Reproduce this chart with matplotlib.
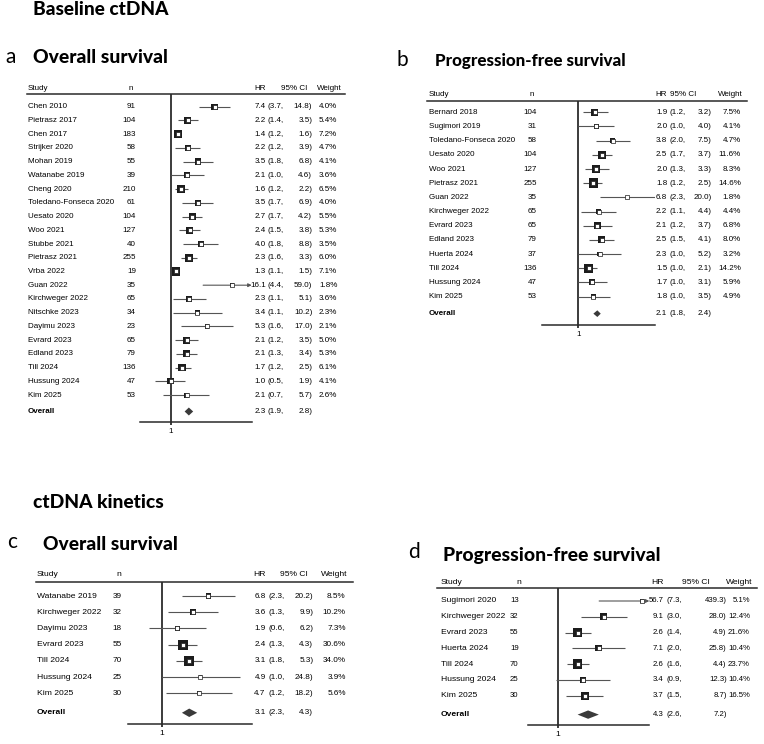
import numpy as np
import matplotlib
matplotlib.use("Agg")
import matplotlib.pyplot as plt
from matplotlib import transforms
from matplotlib.lines import Line2D

# ---------------- data ----------------
studies_a = ["Chen 2010", "Pietrasz 2017", "Chen 2017", "Strijker 2020", "Mohan 2019",
             "Watanabe 2019", "Cheng 2020", "Toledano-Fonseca 2020", "Uesato 2020", "Woo 2021",
             "Stubbe 2021", "Pietrasz 2021", "Vrba 2022", "Guan 2022", "Kirchweger 2022",
             "Nitschke 2023", "Dayimu 2023", "Evrard 2023", "Edland 2023", "Till 2024",
             "Hussung 2024", "Kim 2025"]
n_a = [91, 104, 183, 58, 55, 39, 210, 61, 104, 127, 40, 255, 19, 35, 65, 34, 23, 65, 79, 136, 47, 53]
hr_a = [7.4, 2.2, 1.4, 2.2, 3.5, 2.1, 1.6, 3.5, 2.7, 2.4, 4.0, 2.3, 1.3, 16.1, 2.3, 3.4, 5.3, 2.1, 2.1, 1.7, 1.0, 2.1]
lo_a = [3.7, 1.4, 1.2, 1.2, 1.8, 1.0, 1.2, 1.7, 1.7, 1.5, 1.8, 1.6, 1.1, 4.4, 1.1, 1.1, 1.6, 1.2, 1.3, 1.2, 0.5, 0.7]
hi_a = [14.8, 3.5, 1.6, 3.9, 6.8, 4.6, 2.2, 6.9, 4.2, 3.8, 8.8, 3.3, 1.5, 59.0, 5.1, 10.2, 17.0, 3.5, 3.4, 2.5, 1.9, 5.7]
w_a = [4.0, 5.4, 7.2, 4.7, 4.1, 3.6, 6.5, 4.0, 5.5, 5.3, 3.5, 6.0, 7.1, 1.8, 3.6, 2.3, 2.1, 5.0, 5.3, 6.1, 4.1, 2.6]
overall_a = [2.3, 1.9, 2.8]

studies_b = ["Bernard 2018", "Sugimori 2019", "Toledano-Fonseca 2020", "Uesato 2020", "Woo 2021",
             "Pietrasz 2021", "Guan 2022", "Kirchweger 2022", "Evrard 2023", "Edland 2023",
             "Huerta 2024", "Till 2024", "Hussung 2024", "Kim 2025"]
n_b = [104, 31, 58, 104, 127, 255, 35, 65, 65, 79, 37, 136, 47, 53]
hr_b = [1.9, 2.0, 3.8, 2.5, 2.0, 1.8, 6.8, 2.2, 2.1, 2.5, 2.3, 1.5, 1.7, 1.8]
lo_b = [1.2, 1.0, 2.0, 1.7, 1.3, 1.2, 2.3, 1.1, 1.2, 1.5, 1.0, 1.0, 1.0, 1.0]
hi_b = [3.2, 4.0, 7.5, 3.7, 3.3, 2.5, 20.0, 4.4, 3.7, 4.1, 5.2, 2.1, 3.1, 3.5]
w_b = [7.5, 4.1, 4.7, 11.6, 8.3, 14.6, 1.8, 4.4, 6.8, 8.0, 3.2, 14.2, 5.9, 4.9]
overall_b = [2.1, 1.8, 2.4]

studies_c = ["Watanabe 2019", "Kirchweger 2022", "Dayimu 2023", "Evrard 2023", "Till 2024",
             "Hussung 2024", "Kim 2025"]
n_c = [39, 32, 18, 55, 70, 25, 30]
hr_c = [6.8, 3.6, 1.9, 2.4, 3.1, 4.9, 4.7]
lo_c = [2.3, 1.3, 0.6, 1.3, 1.8, 1.0, 1.2]
hi_c = [20.2, 9.9, 6.2, 4.3, 5.3, 24.8, 18.2]
w_c = [8.5, 10.2, 7.3, 30.6, 34.0, 3.9, 5.6]
overall_c = [3.1, 2.3, 4.3]

studies_d = ["Sugimori 2020", "Kirchweger 2022", "Evrard 2023", "Huerta 2024", "Till 2024",
             "Hussung 2024", "Kim 2025"]
n_d = [13, 32, 55, 19, 70, 25, 30]
hr_d = [56.7, 9.1, 2.6, 7.1, 2.6, 3.4, 3.7]
lo_d = [7.3, 3.0, 1.4, 2.0, 1.6, 0.9, 1.5]
hi_d = [439.3, 28.0, 4.9, 25.8, 4.4, 12.3, 8.7]
w_d = [5.1, 12.4, 21.6, 10.4, 23.7, 10.4, 16.5]
overall_d = [4.3, 2.6, 7.2]

header_labels = ["Study", "n", "HR", "95% CI", "Weight"]
tick_label = "1"

# ---------------- figure ----------------
W, H = 764, 744
fig = plt.figure(figsize=(W / 100, H / 100), dpi=100)
fig.patch.set_facecolor("white")
renderer = fig.canvas.get_renderer()

ROWFONT = ["Liberation Sans", "DejaVu Sans"]
TITLEFONT = ["Lato", "DejaVu Sans"]


def fx(px):
    return px / W


def fy(py):
    return 1 - py / H


def fit_text(x, y, s, width, weight="black", family=TITLEFONT, va="baseline"):
    t = fig.text(fx(x), fy(y), s, fontsize=10, fontweight=weight, family=family,
                 ha="left", va=va, color="black")
    bb = t.get_window_extent(renderer)
    t.set_fontsize(10 * width / bb.width)
    return t


def forest(cfg, studies, n, hr, lo, hi, w, overall):
    L, R, T, B = cfg["box"]
    row0, step = cfg["row0"], cfg["step"]
    ax = fig.add_axes([fx(L), fy(B), fx(R) - fx(L), fy(T) - fy(B)])
    ax.set_xscale("log")
    ax.set_xlim(*cfg["xlim"])
    ax.set_ylim((B - row0) / step, (T - row0) / step)
    for s in ["top", "left", "right"]:
        ax.spines[s].set_visible(False)
    ax.spines["bottom"].set_color("#2a2a2a")
    ax.spines["bottom"].set_linewidth(1.1)
    ax.set_yticks([])
    ax.set_xticks([1])
    ax.set_xticklabels([tick_label])
    ax.minorticks_off()
    ax.tick_params(axis="x", length=2.5, width=1.2, color="#1a1a1a", pad=1.5,
                   labelsize=cfg["fs"])
    for lab in ax.get_xticklabels():
        lab.set_family(ROWFONT)
    ax.patch.set_alpha(0)
    ax.axvline(1, color="#1a1a1a", lw=1.2, zorder=1)

    xmax = cfg["xlim"][1]
    ys = np.arange(len(studies))
    fs = cfg["fs"]
    nfs = cfg["nfs"]
    for i in range(len(studies)):
        if hi[i] > xmax:
            ax.annotate("", xy=(xmax, ys[i]), xytext=(lo[i], ys[i]),
                        arrowprops=dict(arrowstyle="-|>", color="#555555", lw=0.8,
                                        mutation_scale=5, shrinkA=0, shrinkB=0),
                        annotation_clip=False, zorder=2)
        else:
            ax.plot([lo[i], hi[i]], [ys[i], ys[i]], color="#555555", lw=0.8,
                    solid_capstyle="butt", zorder=2)
    side_pt = cfg["boxf"] * np.sqrt(np.array(w)) * 72 / 100
    ax.scatter(hr, ys, s=side_pt ** 2, marker="s", color="#1c1c1c", zorder=3,
               linewidths=0)
    ax.scatter(hr, ys, s=5, marker="s", facecolor="white", edgecolor="#1c1c1c",
               linewidths=0.5, zorder=4)
    # overall diamond
    yo = len(studies) + 0.2
    est, olo, ohi = overall
    hh = cfg["dh"]
    ax.fill([olo, est, ohi, est], [yo, yo - hh, yo, yo + hh], color="#3a3a3a",
            lw=0, zorder=3)

    # text columns
    tr = transforms.blended_transform_factory(fig.transFigure, ax.transData)
    c = cfg["cols"]
    kw = dict(transform=tr, fontsize=fs, family=ROWFONT, va="center", color="black")
    kn = dict(kw)
    kn["fontsize"] = nfs
    for i in range(len(studies)):
        ax.text(fx(c["study"]), ys[i], studies[i], ha="left", **kw)
        ax.text(fx(c["n"]), ys[i], str(n[i]), ha=c["n_ha"], **kn)
        ax.text(fx(c["hr"]), ys[i], f"{hr[i]:.1f}", ha="right", **kn)
        ax.text(fx(c["cil"]), ys[i], f"({lo[i]:.1f},", ha="left", **kn)
        ax.text(fx(c["cir"]), ys[i], f"{hi[i]:.1f})", ha="right", **kn)
        ax.text(fx(c["w"]), ys[i], f"{w[i]:.1f}%", ha="right", **kn)
    kwb = dict(kw)
    kwb["fontweight"] = "bold"
    ax.text(fx(c["study"]), yo, "Overall", ha="left", **kwb)
    ax.text(fx(c["hr"]), yo, f"{est:.1f}", ha="right", **kn)
    ax.text(fx(c["cil"]), yo, f"({olo:.1f},", ha="left", **kn)
    ax.text(fx(c["cir"]), yo, f"{ohi:.1f})", ha="right", **kn)

    # header
    hy = cfg["hy"]
    hdr = cfg["hdr"]
    hk = dict(fontsize=fs, family=ROWFONT, va="center", color="black")
    fig.text(fx(hdr[0]), fy(hy), header_labels[0], ha="left", **hk)
    fig.text(fx(hdr[1]), fy(hy), header_labels[1], ha="left", **hk)
    fig.text(fx(hdr[2]), fy(hy), header_labels[2], ha="right", **hk)
    fig.text(fx(hdr[3]), fy(hy), header_labels[3], ha="left", **hk)
    fig.text(fx(hdr[4]), fy(hy), header_labels[4], ha="right", **hk)
    u0, u1 = cfg["uline"]
    fig.add_artist(Line2D([fx(u0), fx(u1)], [fy(T), fy(T)], transform=fig.transFigure,
                          color="#2a2a2a", lw=1.1))
    return ax


cfg_a = dict(box=(140, 251.7, 94.3, 422), row0=106.7, step=13.73, xlim=(0.25, 40),
             fs=5.8, nfs=5.8, boxf=3.1, dh=0.29, hy=88.5,
             cols=dict(study=28, n=136, n_ha="right", hr=266, cil=267.7, cir=312.3, w=337.3),
             hdr=(28, 128.3, 265.7, 280.7, 341.7), uline=(27, 345))
cfg_b = dict(box=(542.3, 655.3, 100.7, 325), row0=112.3, step=14.18, xlim=(0.245, 20.2),
             fs=5.8, nfs=5.8, boxf=2.5, dh=0.235, hy=95,
             cols=dict(study=429, n=536.7, n_ha="right", hr=667.3, cil=669.3, cir=711.7, w=741),
             hdr=(429, 529.3, 667, 670, 743), uline=(426.7, 746.7))
cfg_c = dict(box=(127.7, 252.3, 581.7, 724.3), row0=596, step=16.22, xlim=(0.25, 41),
             fs=6.1, nfs=5.9, boxf=1.75, dh=0.26, hy=575,
             cols=dict(study=36.7, n=112.7, n_ha="left", hr=265.7, cil=268.3, cir=313.3, w=345.7),
             hdr=(36.7, 116.7, 265.5, 280, 347.3), uline=(36, 352.7))
cfg_d = dict(box=(528.3, 649.3, 587.7, 725), row0=601, step=15.78, xlim=(0.244, 81),
             fs=6.1, nfs=5.6, boxf=1.95, dh=0.265, hy=582,
             cols=dict(study=441, n=510, n_ha="left", hr=663.3, cil=666.7, cir=726.7, w=750),
             hdr=(441, 516.7, 663.3, 681.7, 752.7), uline=(436.7, 756.7))

forest(cfg_a, studies_a, n_a, hr_a, lo_a, hi_a, w_a, overall_a)
forest(cfg_b, studies_b, n_b, hr_b, lo_b, hi_b, w_b, overall_b)
forest(cfg_c, studies_c, n_c, hr_c, lo_c, hi_c, w_c, overall_c)
forest(cfg_d, studies_d, n_d, hr_d, lo_d, hi_d, w_d, overall_d)

# titles
fit_text(33.3, 15, "Baseline ctDNA", 135)
fit_text(33.3, 63.3, "Overall survival", 135)
fit_text(435, 66, "Progression-free survival", 190)
fit_text(33.3, 508.3, "ctDNA kinetics", 130)
fit_text(43.3, 550, "Overall survival", 133.4)
fit_text(443.3, 561, "Progression-free survival", 216.7)

for lab, x, y in [("a", 5, 63.3), ("b", 396, 66), ("c", 6.7, 548.3), ("d", 408, 558.3)]:
    fig.text(fx(x), fy(y), lab, fontsize=15, family=TITLEFONT, fontweight="normal",
             ha="left", va="baseline", color="black")

fig.savefig("out.png", dpi=100, facecolor="white")
